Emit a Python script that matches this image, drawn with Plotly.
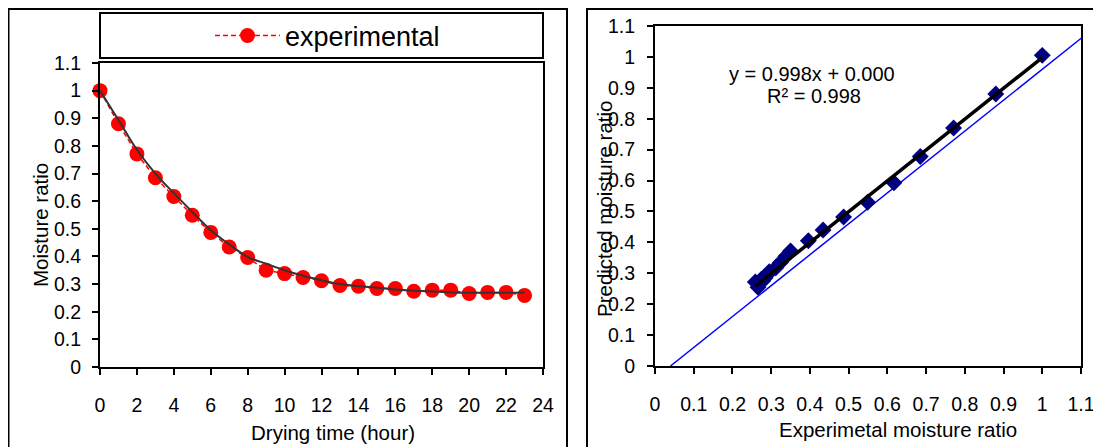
import plotly.graph_objects as go

# reference picture size and the page's default body offset
W, H = 1101, 447
OFF = 8
FW, FH = W - OFF, H - OFF

# ---------------- data ----------------
drying_time = list(range(0, 24))
experimental_mr = [1.0, 0.88, 0.771, 0.685, 0.617, 0.549, 0.487, 0.434, 0.396, 0.35,
                   0.338, 0.324, 0.312, 0.295, 0.292, 0.284, 0.284, 0.274, 0.278, 0.278,
                   0.266, 0.27, 0.27, 0.259]
model_curve_mr = [1.0, 0.894, 0.786, 0.7, 0.629, 0.561, 0.495, 0.444, 0.398, 0.374,
                  0.35, 0.33, 0.314, 0.3, 0.292, 0.287, 0.28, 0.276, 0.273, 0.27,
                  0.269, 0.269, 0.269, 0.27]
predicted_mr = [1.005, 0.88, 0.77, 0.678, 0.593, 0.53, 0.482, 0.44, 0.405, 0.372,
                0.355, 0.335, 0.318, 0.305, 0.298, 0.29, 0.285, 0.28, 0.278, 0.275,
                0.255, 0.27, 0.268, 0.272]
trend_slope = 0.998
trend_intercept = 0.000
r_squared = 0.998
ref_line_x = [0.04, 1.14]
ref_line_y = [0.0, 1.10]

left_xticks = list(range(0, 25, 2))
yticks = [round(0.1 * i, 1) for i in range(12)]

FONT = "Liberation Sans, Arial, sans-serif"


def px(x):
    return (x - OFF) / FW


def py(y):
    return 1 - (y - OFF) / FH


fig = go.Figure()

# left panel
fig.add_trace(go.Scatter(
    x=drying_time, y=experimental_mr, mode="lines+markers", name="experimental",
    line=dict(color="#FF0000", width=1.5, dash="5px,3px"),
    marker=dict(color="#FF0000", size=15, symbol="circle"),
    cliponaxis=False, xaxis="x", yaxis="y", showlegend=True))
fig.add_trace(go.Scatter(
    x=drying_time, y=model_curve_mr, mode="lines", name="model",
    line=dict(color="#333333", width=2, shape="spline"),
    xaxis="x", yaxis="y", showlegend=False))

# right panel
fig.add_trace(go.Scatter(
    x=ref_line_x, y=ref_line_y, mode="lines", line=dict(color="#0000FF", width=1.5),
    cliponaxis=False, xaxis="x2", yaxis="y2", showlegend=False))
fig.add_trace(go.Scatter(
    x=experimental_mr, y=predicted_mr, mode="markers",
    marker=dict(color="#000080", size=13, symbol="diamond"),
    xaxis="x2", yaxis="y2", showlegend=False))
tx = [min(experimental_mr), max(experimental_mr)]
ty = [trend_slope * v + trend_intercept for v in tx]
fig.add_trace(go.Scatter(
    x=tx, y=ty, mode="lines", line=dict(color="#000000", width=3.5),
    xaxis="x2", yaxis="y2", showlegend=False))

axis_common = dict(showline=True, linecolor="black", linewidth=2, mirror=True,
                   ticks="outside", ticklen=6, tickwidth=1.5, tickcolor="black",
                   showgrid=False, zeroline=False, automargin=False,
                   tickfont=dict(family=FONT, size=19.5, color="black"))


def ann(text, x, y, size=20.5, angle=0):
    return dict(text=text, xref="paper", yref="paper", x=px(x), y=py(y),
                xanchor="center", yanchor="middle", showarrow=False,
                textangle=angle, font=dict(family=FONT, size=size, color="black"))


fig.update_layout(
    width=FW, height=FH,
    margin=dict(l=0, r=0, t=0, b=0, pad=0, autoexpand=False),
    paper_bgcolor="white", plot_bgcolor="white",
    font=dict(family=FONT, color="black"),
    xaxis=dict(domain=[px(100), px(543)], range=[0, 24], tickvals=left_xticks,
               anchor="y", ticklabelstandoff=14, **axis_common),
    yaxis=dict(domain=[py(367), py(63)], range=[0, 1.1], tickvals=yticks,
               anchor="x", ticklabelstandoff=7, **axis_common),
    xaxis2=dict(domain=[px(655), px(1081)], range=[0, 1.1], tickvals=yticks,
                anchor="y2", ticklabelstandoff=14, **axis_common),
    yaxis2=dict(domain=[py(366), py(26)], range=[0, 1.1], tickvals=yticks,
                anchor="x2", ticklabelstandoff=8, **axis_common),
    legend=dict(x=px(210), y=py(36), xanchor="left", yanchor="middle",
                itemwidth=65,
                bgcolor="rgba(0,0,0,0)", borderwidth=0,
                font=dict(family=FONT, size=27, color="black")),
    shapes=[
        dict(type="rect", xref="paper", yref="paper", x0=px(8.5), x1=px(567),
             y0=-0.2, y1=py(9), line=dict(color="black", width=2)),
        dict(type="rect", xref="paper", yref="paper", x0=px(587), x1=1.2,
             y0=-0.2, y1=py(9), line=dict(color="black", width=2)),
        dict(type="rect", xref="paper", yref="paper", x0=px(100), x1=px(543),
             y0=py(58), y1=py(13), line=dict(color="black", width=2)),
    ],
    annotations=[
        ann("Drying time (hour)", 333, 432),
        ann("Moisture ratio", 40, 225, angle=-90),
        ann("Experimetal moisture ratio", 898, 429),
        ann("Predicted moisture ratio", 604, 209, angle=-90),
        ann(f"y = {trend_slope:.3f}x + {trend_intercept:.3f}", 812, 74, size=20),
        ann(f"R² = {r_squared:.3f}", 814, 96, size=20),
    ],
)

fig.write_html("out.html")
